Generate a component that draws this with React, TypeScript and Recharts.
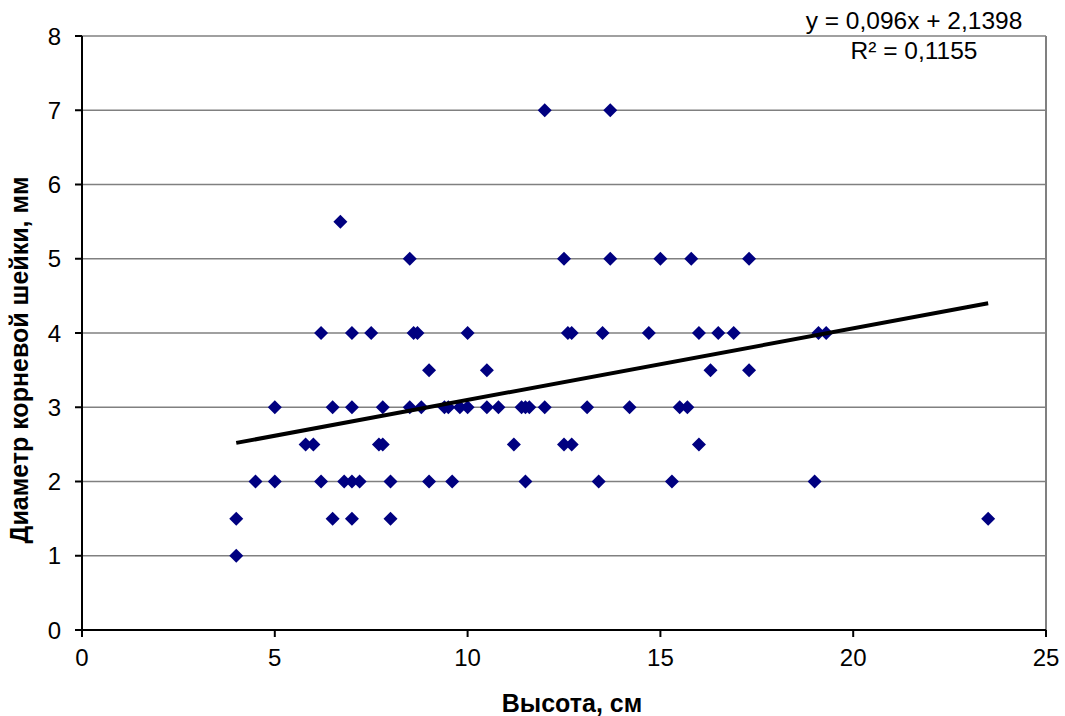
import { ScatterChart, Scatter, XAxis, YAxis, CartesianGrid, ReferenceLine, Label } from "recharts";

// высота (см) и диаметр корневой шейки (мм), по точкам
const heights = [
  12, 13.7,
  6.7,
  8.5, 12.5, 13.7, 15.0, 15.8, 17.3,
  6.2, 7.0, 7.5, 8.6, 8.7, 10.0, 12.6, 12.7, 13.5, 14.7, 16.0, 16.5, 16.9, 19.1, 19.3,
  9.0, 10.5, 16.3, 17.3,
  5.0, 6.5, 7.0, 7.8, 8.5, 8.8, 9.4, 9.5, 9.8, 10.0, 10.5, 10.8, 11.4, 11.5, 11.6, 12.0, 13.1, 14.2, 15.5, 15.7,
  5.8, 6.0, 7.7, 7.8, 11.2, 12.5, 12.7, 16.0,
  4.5, 5.0, 6.2, 6.8, 7.0, 7.2, 8.0, 9.0, 9.6, 11.5, 13.4, 15.3, 19.0,
  4.0, 6.5, 7.0, 8.0, 23.5,
  4.0,
];
const diameters = [
  7, 7,
  5.5,
  5, 5, 5, 5, 5, 5,
  4, 4, 4, 4, 4, 4, 4, 4, 4, 4, 4, 4, 4, 4, 4,
  3.5, 3.5, 3.5, 3.5,
  3, 3, 3, 3, 3, 3, 3, 3, 3, 3, 3, 3, 3, 3, 3, 3, 3, 3, 3, 3,
  2.5, 2.5, 2.5, 2.5, 2.5, 2.5, 2.5, 2.5,
  2, 2, 2, 2, 2, 2, 2, 2, 2, 2, 2, 2, 2,
  1.5, 1.5, 1.5, 1.5, 1.5,
  1,
];

// линия тренда: концы, как на картинке
const trendX = [4, 23.5];
const trendY = [2.52, 4.4];

const xTicks = [0, 5, 10, 15, 20, 25];
const yTicks = [0, 1, 2, 3, 4, 5, 6, 7, 8];

const points = heights.map((h, i) => ({ x: h, y: diameters[i] }));
const trend = trendX.map((x, i) => ({ x, y: trendY[i] }));

const font = '"Liberation Sans", Arial, sans-serif';

const Diamond = (props: any) => {
  const { cx, cy } = props;
  const r = 7;
  return <polygon points={`${cx},${cy - r} ${cx + r},${cy} ${cx},${cy + r} ${cx - r},${cy}`} fill="#000080" />;
};

export default function App() {
  return (
    <div style={{ position: "absolute", left: 0, top: 0, width: 1065, height: 716, fontFamily: font }}>
      <ScatterChart width={1065} height={716} margin={{ top: 36, right: 19, bottom: 56, left: 0 }}>
        <CartesianGrid vertical={false} stroke="#808080" strokeWidth={1.5} />
        <XAxis
          type="number"
          dataKey="x"
          domain={[0, 25]}
          ticks={xTicks}
          tickSize={7}
          tickMargin={12}
          stroke="#000"
          strokeWidth={2}
          tick={{ fill: "#000", fontSize: 24, fontFamily: font }}
        >
          <Label
            content={() => (
              <text x={572} y={712} textAnchor="middle" fontSize={25} fontWeight="bold" fontFamily={font} fill="#000">
                Высота, см
              </text>
            )}
          />
        </XAxis>
        <YAxis
          type="number"
          dataKey="y"
          domain={[0, 8]}
          ticks={yTicks}
          width={82}
          tickSize={7}
          tickMargin={14}
          stroke="#000"
          strokeWidth={2}
          tick={{ fill: "#000", fontSize: 24, fontFamily: font }}
        >
          <Label
            content={() => (
              <text
                x={28}
                y={360}
                transform="rotate(-90 28 360)"
                textAnchor="middle"
                fontSize={25}
                fontWeight="bold"
                fontFamily={font}
                fill="#000"
              >
                Диаметр корневой шейки, мм
              </text>
            )}
          />
        </YAxis>
        <ReferenceLine x={25} stroke="#808080" strokeWidth={2} />
        <Scatter data={points} shape={Diamond} isAnimationActive={false} />
        <Scatter
          data={trend}
          line={{ stroke: "#000", strokeWidth: 4 }}
          shape={() => <g />}
          isAnimationActive={false}
        />
      </ScatterChart>
      <div style={{ position: "absolute", left: 764, top: 6, width: 300, textAlign: "center", fontSize: 24.5, lineHeight: "30px", color: "#000" }}>
        y = 0,096x + 2,1398
        <br />
        R² = 0,1155
      </div>
    </div>
  );
}
